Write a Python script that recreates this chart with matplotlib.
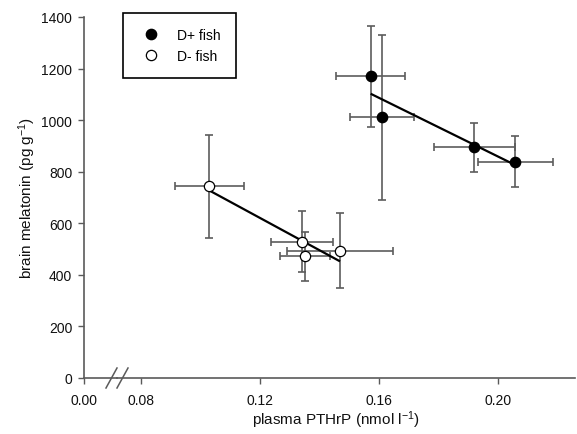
import numpy as np
import matplotlib
matplotlib.use("Agg")
import matplotlib.pyplot as plt
from matplotlib.lines import Line2D

plt.rcParams['font.family'] = ['Liberation Sans', 'DejaVu Sans']
plt.rcParams['mathtext.fontset'] = 'custom'
plt.rcParams['mathtext.rm'] = 'Liberation Sans'
plt.rcParams['mathtext.it'] = 'Liberation Sans:italic'

# ---- data ----
dplus_x = [0.1572, 0.1609, 0.1920, 0.2058]
dplus_y = [1170, 1011, 895, 838]
dplus_xerr = [0.0116, 0.0108, 0.0136, 0.0126]
dplus_yerr = [197, 320, 95, 99]

dminus_x = [0.1029, 0.1342, 0.1351, 0.1469]
dminus_y = [743, 529, 472, 494]
dminus_xerr = [0.0116, 0.0105, 0.0084, 0.0177]
dminus_yerr = [200, 118, 95, 145]

xticks_main = [0.08, 0.12, 0.16, 0.20]
xtick_labels_main = ['0.08', '0.12', '0.16', '0.20']
xticks_break = [0.0]
xtick_labels_break = ['0.00']
yticks = [0, 200, 400, 600, 800, 1000, 1200, 1400]
legend_labels = ['D+ fish', 'D- fish']

# ---- layout (pixel based) ----
W, H = 577, 435
fig = plt.figure(figsize=(W / 100, H / 100), dpi=100)

px_y0, px_ytop = 379, 18
px_left, px_break, px_right = 84, 117, 575
scale = 2975.0  # px per x unit
x08_px = 141

def fx(p):
    return p / W

def fy(p):
    return 1 - p / H

bottom = fy(px_y0)
height = fy(px_ytop) - bottom

ax0 = fig.add_axes([fx(px_left), bottom, fx(px_break - px_left), height])
ax1 = fig.add_axes([fx(px_break), bottom, fx(px_right - px_break), height])

spine_col = '#5a5a5a'
fs_tick = 10
fs_lab = 11
fs_leg = 10

ax0.set_xlim(0, (px_break - px_left) / scale)
ax1.set_xlim(0.08 - (x08_px - px_break) / scale, 0.08 + (px_right - x08_px) / scale)
for a in (ax0, ax1):
    a.set_ylim(0, 1400)
    a.patch.set_alpha(0)
    a.spines['top'].set_visible(False)
    a.spines['right'].set_visible(False)
    a.spines['bottom'].set_color(spine_col)
    a.spines['bottom'].set_linewidth(1.2)
    a.tick_params(direction='out', length=4, width=1, color=spine_col,
                  labelsize=fs_tick, labelcolor='#111111')
    a.tick_params(axis='x', pad=6.5)

ax0.spines['left'].set_color(spine_col)
ax0.spines['left'].set_linewidth(1.2)
ax0.set_yticks(yticks)
ax0.set_yticklabels([str(v) for v in yticks])
ax0.tick_params(axis='y', pad=4.5)
ax0.set_xticks(xticks_break)
ax0.set_xticklabels(xtick_labels_break)

ax1.spines['left'].set_visible(False)
ax1.set_yticks([])
ax1.set_xticks(xticks_main)
ax1.set_xticklabels(xtick_labels_main)

err_col = '#5c5c5c'
ekw = dict(fmt='none', ecolor=err_col, elinewidth=1.2, capsize=3, capthick=1.2, zorder=2)
ax1.errorbar(dplus_x, dplus_y, xerr=dplus_xerr, yerr=dplus_yerr, **ekw)
ax1.errorbar(dminus_x, dminus_y, xerr=dminus_xerr, yerr=dminus_yerr, **ekw)

# regression lines
for xs, ys in ((dplus_x, dplus_y), (dminus_x, dminus_y)):
    xs = np.asarray(xs); ys = np.asarray(ys)
    k, b = np.polyfit(xs, ys, 1)
    xx = np.array([xs.min(), xs.max()])
    ax1.plot(xx, k * xx + b, color='black', lw=1.6, zorder=3, solid_capstyle='butt')

ms = 7.4
ax1.plot(dplus_x, dplus_y, 'o', color='black', ms=ms, zorder=4)
ax1.plot(dminus_x, dminus_y, 'o', mfc='white', mec='black', mew=0.9, ms=ms, zorder=4)

# break marks
for cx in (111.5, 122.5):
    fig.add_artist(Line2D([fx(cx - 5.5), fx(cx + 5.5)], [fy(px_y0 + 10), fy(px_y0 - 10)],
                          color=spine_col, lw=1.1))

# labels
fig.text(fx(336), fy(420), r'plasma PTHrP (nmol l$^{\mathregular{-1}}$)',
         ha='center', va='center', fontsize=fs_lab, color='#111111')
fig.text(fx(27.5), fy(198), r'brain melatonin (pg g$^{\mathregular{-1}}$)',
         ha='center', va='center', rotation=90, fontsize=fs_lab, color='#111111')

handles = [Line2D([], [], ls='none', marker='o', color='black', ms=ms),
           Line2D([], [], ls='none', marker='o', mfc='white', mec='black', mew=0.9, ms=ms)]
leg = fig.legend(handles, legend_labels, loc='upper left',
                 bbox_to_anchor=(fx(123), fy(14)), fontsize=fs_leg,
                 frameon=True, fancybox=False, framealpha=1, edgecolor='black',
                 borderpad=1.1, labelspacing=0.45, handlelength=1.9,
                 handletextpad=0.9, borderaxespad=0)
leg.get_frame().set_linewidth(1.2)

fig.savefig('out.png', dpi=100)
